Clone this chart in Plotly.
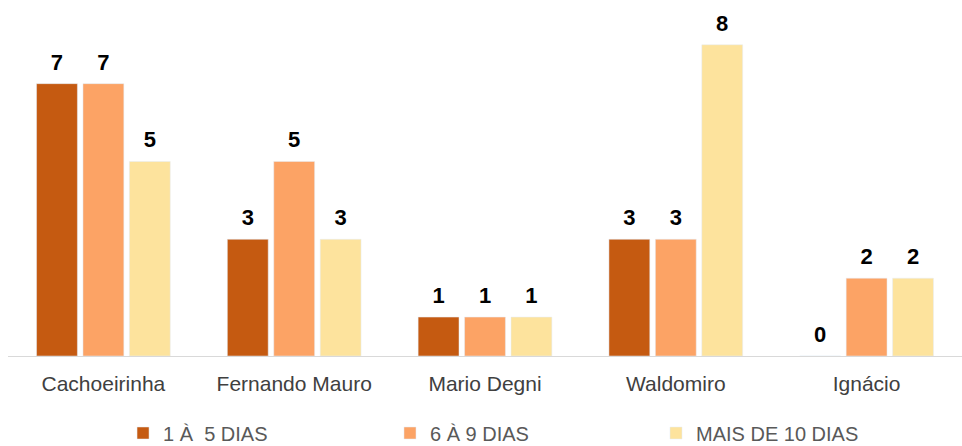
import plotly.graph_objects as go

# bairros (categories) and counts per range of days
bairros = ["Cachoeirinha", "Fernando Mauro", "Mario Degni", "Waldomiro", "Ignácio"]
dias_1_5 = [7, 3, 1, 3, 0]
dias_6_9 = [7, 5, 1, 3, 2]
dias_10_mais = [5, 3, 1, 8, 2]

FONT = "Liberation Sans, Arial, sans-serif"

series = [
    ("1 À&nbsp;&nbsp;5 DIAS", dias_1_5, "#C55A11", "legend", 0.1279),
    ("6 À 9 DIAS", dias_6_9, "#FCA365", "legend2", 0.4054),
    ("MAIS DE 10 DIAS", dias_10_mais, "#FDE39D", "legend3", 0.6819),
]

fig = go.Figure()
for i, (name, vals, color, leg, _) in enumerate(series):
    fig.add_trace(
        go.Bar(
            x=bairros,
            y=vals,
            name=name,
            marker_color=color,
            offsetgroup=str(i),
            legend=leg,
            hoverinfo="skip",
        )
    )
    # value labels sitting above each bar
    fig.add_trace(
        go.Scatter(
            x=bairros,
            y=vals,
            mode="markers+text",
            text=vals,
            textposition="top center",
            textfont=dict(family=FONT, size=22, color="#000000", weight="bold"),
            marker=dict(size=12, color="rgba(0,0,0,0)"),
            offsetgroup=str(i),
            showlegend=False,
            cliponaxis=False,
            hoverinfo="skip",
        )
    )

legend_style = dict(
    orientation="h",
    xref="container",
    yref="container",
    y=(446 - 433) / 446,
    yanchor="middle",
    xanchor="left",
    font=dict(family=FONT, size=20, color="#595959"),
    bgcolor="rgba(0,0,0,0)",
)
legends = {leg: dict(legend_style, x=lx) for _, _, _, leg, lx in series}

fig.update_layout(
    width=962,
    height=446,
    paper_bgcolor="#ffffff",
    plot_bgcolor="#ffffff",
    barmode="group",
    scattermode="group",
    bargap=0.27,
    scattergap=0.27,
    bargroupgap=0.12,
    margin=dict(l=8, r=0, t=0, b=90),
    showlegend=True,
    **legends,
)
fig.update_xaxes(
    showline=True,
    linecolor="#D9D9D9",
    linewidth=1,
    ticks="outside",
    ticklen=9,
    tickcolor="rgba(0,0,0,0)",
    tickfont=dict(family=FONT, size=21, color="#404040"),
    automargin=False,
)
fig.update_yaxes(range=[0, 9.15], visible=False, showgrid=False)

fig.write_html(
    "out.html",
    config={"displayModeBar": False},
    post_script="document.body.style.margin='0';document.body.style.overflow='hidden';",
)
